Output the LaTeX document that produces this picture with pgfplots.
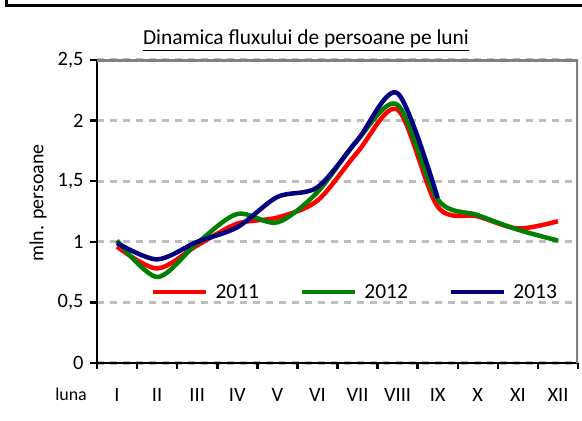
\documentclass[border=0pt]{standalone}
\usepackage{fontspec}
\setmainfont{Carlito}
\usepackage{pgfplots}
\pgfplotsset{compat=1.18}
\definecolor{xlred}{RGB}{255,0,0}
\definecolor{xlgreen}{RGB}{0,128,0}
\definecolor{xlnavy}{RGB}{0,0,128}
\definecolor{gridgray}{RGB}{190,190,190}
\definecolor{bordergray}{RGB}{128,128,128}
\begin{document}
\begin{tikzpicture}
\path[use as bounding box] (0bp,0bp) rectangle (582bp,421bp);
\draw[line width=3bp] (6.5bp,421bp) -- (6.5bp,415.7bp) -- (582bp,415.7bp);
\node[anchor=base, font=\fontsize{21.5}{25}\selectfont] at (306bp,376bp) {\underline{Dinamica fluxului de persoane pe luni}};
\begin{axis}[
  at={(97bp,58bp)}, anchor=south west,
  scale only axis, width=481bp, height=303bp,
  xmin=0.5, xmax=12.5, ymin=0, ymax=2.5,
  axis lines*=left,
  axis line style={-, line width=2.5bp, black},
  tick align=outside,
  xtick={1,2,3,4,5,6,7,8,9,10,11,12},
  xticklabels={I,II,III,IV,V,VI,VII,VIII,IX,X,XI,XII},
  major x tick style={draw=none},
  minor xtick={0.5,1.5,2.5,3.5,4.5,5.5,6.5,7.5,8.5,9.5,10.5,11.5,12.5},
  minor tick length=6bp,
  minor x tick style={line width=2.5bp, black},
  major tick length=7bp,
  major y tick style={line width=2.5bp, black},
  ytick={0,0.5,1,1.5,2,2.5},
  /pgf/number format/.cd, use comma, assume math mode=true, /pgfplots/.cd,
  yticklabel style={font=\fontsize{20.5}{24}\selectfont, anchor=east, xshift=-3bp},
  xticklabel style={font=\fontsize{20.5}{24}\selectfont, anchor=base, yshift=-31bp},
  ymajorgrids,
  major grid style={dash pattern=on 7bp off 6bp, line width=3bp, gridgray},
  ylabel={mln. persoane},
  ylabel style={font=\fontsize{20}{24}\selectfont, at={(rel axis cs:-0.1227,0.528)}, anchor=center, rotate=0},
  xlabel={luna},
  xlabel style={font=\fontsize{18}{21}\selectfont, at={(rel axis cs:-0.054,0)}, anchor=base, yshift=-37bp},
  legend columns=3,
  legend style={draw=none, fill=none, inner sep=0pt, at={(rel axis cs:0.112,0.234)}, anchor=west,
    font=\fontsize{21.5}{25}\selectfont, nodes={inner sep=0pt},
    /tikz/every odd column/.append style={column sep=7bp},
    /tikz/every even column/.append style={column sep=41bp}},
  legend image code/.code={\draw[#1] (0bp,0bp) -- (53bp,0bp);},
]
\addplot[xlred, line width=4.5bp, smooth] coordinates {
(1,0.96) (2,0.78) (3,0.97) (4,1.15) (5,1.20) (6,1.34) (7,1.74) (8,2.09) (9,1.29) (10,1.21) (11,1.11) (12,1.17)};
\addlegendentry{2011}
\addplot[xlgreen, line width=4.5bp, smooth] coordinates {
(1,1.01) (2,0.71) (3,0.99) (4,1.23) (5,1.16) (6,1.41) (7,1.84) (8,2.13) (9,1.35) (10,1.22) (11,1.10) (12,1.01)};
\addlegendentry{2012}
\addplot[xlnavy, line width=4.5bp, smooth] coordinates {
(1,0.99) (2,0.855) (3,1.0) (4,1.12) (5,1.37) (6,1.45) (7,1.84) (8,2.225) (9,1.36)};
\addlegendentry{2013}
\draw[bordergray, line width=3.2bp] (rel axis cs:0,1) -- (rel axis cs:1,1) -- (rel axis cs:1,0);
\end{axis}
\end{tikzpicture}
\end{document}
